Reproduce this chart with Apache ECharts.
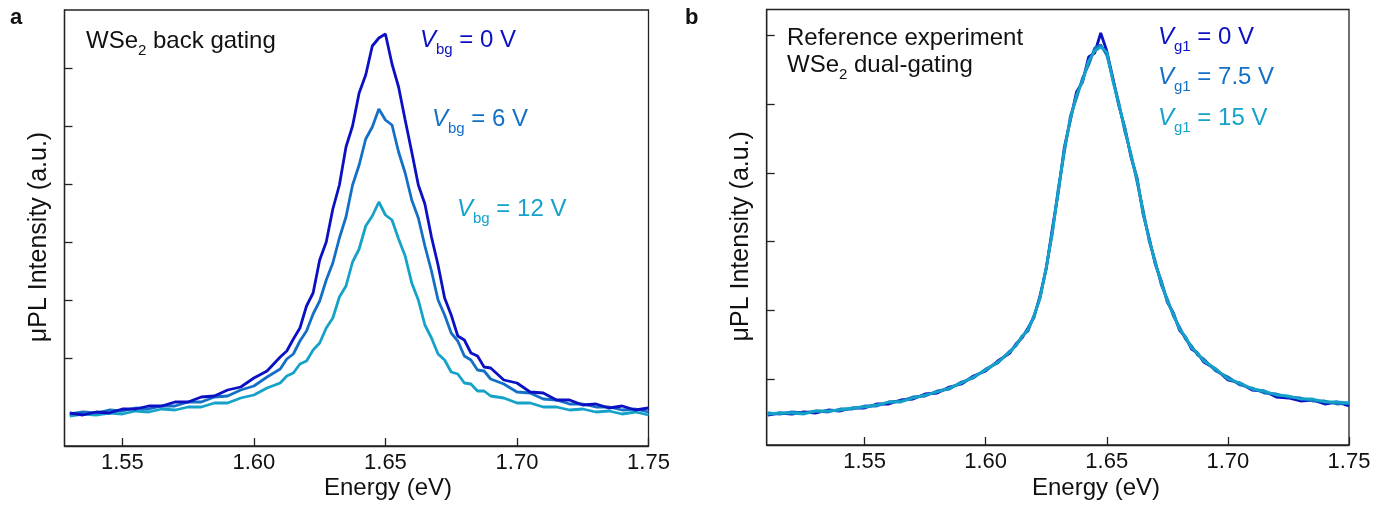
<!DOCTYPE html>
<html><head><meta charset="utf-8">
<script src="https://cdn.jsdelivr.net/npm/echarts@6/dist/echarts.min.js"></script>
<style>html,body{margin:0;padding:0;background:#fff}#c{width:1387px;height:505px}</style>
</head><body><div id="c"></div>
<script>
// ---------- data (intensities in arbitrary units) ----------
const energyA = [1.530,1.535,1.540,1.545,1.550,1.555,1.560,1.565,1.570,1.575,1.580,1.585,1.590,1.595,1.600,1.605,1.610,
  1.6125,1.615,1.6175,1.620,1.6225,1.625,1.6275,1.630,1.6325,1.635,1.6375,1.640,1.6425,1.645,1.6475,1.650,1.6525,1.655,1.6575,1.660,1.6625,1.665,1.6675,1.670,1.6725,1.675,1.6775,1.680,1.6825,1.685,1.6875,1.690,
  1.695,1.700,1.705,1.710,1.715,1.720,1.725,1.730,1.735,1.740,1.745,1.750];
const vbg0 = [33,31,34,33,37,37,40,40,44,44,49,50,56,59,68,75,89,
  95,107,118,140,153,186,204,237,261,299,320,353,371,400,408,412,382,359,326,294,261,242,209,181,148,131,110,106,93,90,79,78,
  66,63,54,53,46,46,41,42,38,40,36,38];
const vbg6 = [32,34,33,36,35,38,37,40,40,44,44,49,50,56,60,69,77,
  87,92,105,115,132,145,166,183,208,229,261,281,307,319,337,326,321,294,273,246,228,200,175,146,131,113,105,90,86,76,75,67,
  62,54,53,47,46,42,42,39,39,36,37,34];
const vbg12 = [30,32,31,33,32,35,34,37,36,39,39,43,43,48,51,58,63,
  70,73,82,85,96,103,118,128,149,160,184,197,220,230,244,231,226,207,190,163,146,121,108,92,86,74,72,63,62,55,55,50,
  48,43,43,39,39,36,37,34,35,32,34,31];

const energyB = [1.510,1.515,1.520,1.525,1.530,1.535,1.540,1.545,1.550,1.555,1.560,1.565,1.570,1.575,1.580,1.585,1.590,1.595,1.600,1.605,1.610,
  1.6125,1.615,1.6175,1.620,1.6225,1.625,1.6275,1.630,1.6325,1.635,1.6375,1.640,1.6425,1.645,1.6475,1.650,1.6525,1.655,1.6575,1.660,1.6625,1.665,1.6675,1.670,1.6725,1.675,1.6775,1.680,1.6825,1.685,1.6875,1.690,
  1.695,1.700,1.705,1.710,1.715,1.720,1.725,1.730,1.735,1.740,1.745,1.750];
const vg0 = [30,32,31,33,32,35,34,37,37,41,41,45,46,51,52,58,61,69,74,84,92,
  101,107,117,128,150,176,216,253,298,325,353,363,388,392,412,394,367,339,317,288,267,231,207,181,164,143,132,115,108,96,92,83,
  76,65,62,55,54,48,47,44,45,41,43,39];
const vg75 = [32,31,33,32,34,33,36,36,39,39,43,44,48,49,54,56,63,67,76,82,94,
  99,109,114,130,147,178,211,257,293,329,347,367,380,397,400,390,366,342,313,291,263,235,204,184,160,146,129,118,106,99,90,86,
  74,68,60,57,52,51,48,47,44,44,41,42];
const vg15 = [31,32,32,31,34,34,35,37,38,40,43,43,47,50,53,57,62,68,75,83,93,
  100,108,116,129,148,177,213,254,296,326,350,364,384,394,398,393,364,340,316,289,266,232,206,182,163,144,131,116,108,97,92,84,
  76,66,62,56,54,50,49,46,46,43,43,42];

const xTicks = [1.55,1.60,1.65,1.70,1.75];
const yTicksA = [88,146,204,262,320,378];
const yTicksB = [66,135,204,272,341,410];

const labelsA = [['bg','0 V'],['bg','6 V'],['bg','12 V']];
const labelsB = [['g1','0 V'],['g1','7.5 V'],['g1','15 V']];

// ---------- styling ----------
const FONT = 'Liberation Sans';
const C0 = '#0b10c3', C1 = '#1470c6', C2 = '#15a2c9';
const zip = (xs, ys) => xs.map((x, i) => [x, ys[i]]);

const chart = echarts.init(document.getElementById('c'), null, {renderer: 'canvas'});

function xAxisCfg(grid, min) {
  return {
    gridIndex: grid, type: 'value', min: min, max: 1.75,
    axisLine: {show: true, lineStyle: {color: '#222', width: 1.3}},
    axisTick: {show: true, inside: true, length: 8, customValues: xTicks, lineStyle: {color: '#222', width: 1.3}},
    axisLabel: {show: true, customValues: xTicks, margin: 6, fontFamily: FONT, fontSize: 22, color: '#111',
      formatter: v => v.toFixed(2)},
    splitLine: {show: false}
  };
}
function yAxisCfg(grid, max, ticks) {
  return {
    gridIndex: grid, type: 'value', min: 0, max: max,
    name: 'μPL Intensity (a.u.)', nameLocation: 'middle', nameGap: 13, nameRotate: 90,
    nameTextStyle: {fontFamily: FONT, fontSize: 25, color: '#111', padding: [0, 0, 0, -18]},
    axisLine: {show: true, lineStyle: {color: '#222', width: 1.3}},
    axisTick: {show: true, inside: true, length: 8, customValues: ticks, lineStyle: {color: '#222', width: 1.3}},
    axisLabel: {show: false},
    splitLine: {show: false}
  };
}
function line(name, xi, data, color) {
  return {name, type: 'line', xAxisIndex: xi, yAxisIndex: xi, data, showSymbol: false,
    lineStyle: {color, width: 2.8}, itemStyle: {color}, animation: false, silent: true};
}
function vLabel(sub, rest, x, y, color) {
  return {type: 'text', left: x, top: y - 17, silent: true,
    style: {text: '{i|V}{s|' + sub + '}{n| = ' + rest + '}', fill: color,
      rich: {
        i: {fontFamily: FONT, fontSize: 24, fontStyle: 'italic', lineHeight: 34, fill: color},
        s: {fontFamily: FONT, fontSize: 15, lineHeight: 15, verticalAlign: 'bottom', fill: color},
        n: {fontFamily: FONT, fontSize: 24, lineHeight: 34, fill: color}
      }}};
}
function wse(text, x, y) {
  return {type: 'text', left: x, top: y - 17, silent: true,
    style: {text: '{n|WSe}{s|2}{n|' + text + '}', fill: '#111',
      rich: {
        n: {fontFamily: FONT, fontSize: 24, lineHeight: 34, fill: '#111'},
        s: {fontFamily: FONT, fontSize: 15, lineHeight: 15, verticalAlign: 'bottom', fill: '#111'}
      }}};
}
function xName(cx) {
  return {type: 'text', x: cx, y: 488, silent: true,
    style: {text: 'Energy (eV)', fontFamily: FONT, fontSize: 24, fill: '#111', align: 'center', verticalAlign: 'middle'}};
}

const colsA = [C0, C1, C2];
const posA = [[420, 45], [432, 124], [457, 214]];
const posB = [[1158, 42], [1158, 82], [1158, 123]];

chart.setOption({
  backgroundColor: '#fff',
  animation: false,
  grid: [
    {left: 64.5, top: 10, width: 584, height: 436, show: true, borderColor: '#222', borderWidth: 1.3, containLabel: false},
    {left: 766.7, top: 9.5, width: 582.3, height: 435.5, show: true, borderColor: '#222', borderWidth: 1.3, containLabel: false}
  ],
  xAxis: [xAxisCfg(0, 1.528), xAxisCfg(1, 1.5096)],
  yAxis: [yAxisCfg(0, 436, yTicksA), yAxisCfg(1, 435.5, yTicksB)],
  series: [
    line('Vbg = 12 V', 0, zip(energyA, vbg12), C2),
    line('Vbg = 6 V', 0, zip(energyA, vbg6), C1),
    line('Vbg = 0 V', 0, zip(energyA, vbg0), C0),
    line('Vg1 = 0 V', 1, zip(energyB, vg0), C0),
    line('Vg1 = 7.5 V', 1, zip(energyB, vg75), C1),
    line('Vg1 = 15 V', 1, zip(energyB, vg15), C2)
  ],
  graphic: [
    {type: 'text', left: 10, top: 7, style: {text: 'a', fontFamily: FONT, fontSize: 22, fontWeight: 'bold', fill: '#111'}},
    {type: 'text', left: 685, top: 7, style: {text: 'b', fontFamily: FONT, fontSize: 22, fontWeight: 'bold', fill: '#111'}},
    wse(' back gating', 86, 46),
    {type: 'text', left: 787, top: 40 - 14, style: {text: 'Reference experiment', fontFamily: FONT, fontSize: 24, fill: '#111'}},
    wse(' dual-gating', 787, 70),
    xName(388), xName(1096),
    ...labelsA.map((l, i) => vLabel(l[0], l[1], posA[i][0], posA[i][1], colsA[i])),
    ...labelsB.map((l, i) => vLabel(l[0], l[1], posB[i][0], posB[i][1], colsA[i]))
  ]
});
</script></body></html>
